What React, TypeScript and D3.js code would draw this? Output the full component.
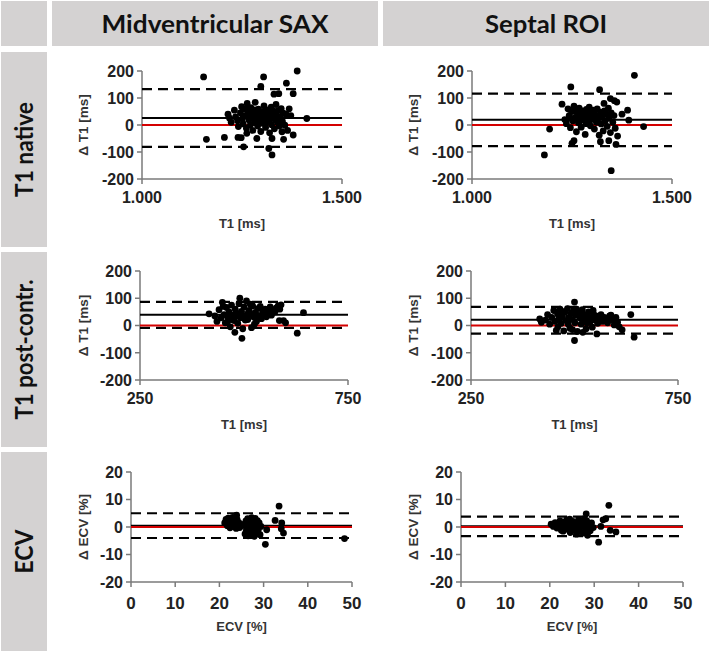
import React from "react";
import * as d3 from "d3";

// ---------- DATA ----------
const columnTitles = ["Midventricular SAX", "Septal ROI"];
const rowTitles = ["T1 native", "T1 post-contr.", "ECV"];

const xTitles = ["T1 [ms]", "T1 [ms]", "ECV [%]"];
const yTitles = ["\u0394 T1 [ms]", "\u0394 T1 [ms]", "\u0394 ECV [%]"];

const xDomains: [number, number][] = [[1000, 1500], [250, 750], [0, 50]];
const yDomains: [number, number][] = [[-200, 200], [-200, 200], [-20, 20]];
const xTickValues = [[1000, 1500], [250, 750], [0, 10, 20, 30, 40, 50]];
const xTickLabels = [["1.000", "1.500"], ["250", "750"], ["0", "10", "20", "30", "40", "50"]];
const yTickValues = [[-200, -100, 0, 100, 200], [-200, -100, 0, 100, 200], [-20, -10, 0, 10, 20]];

// [mean, upper LoA, lower LoA]
const midNativeLines = [26, 133, -81];
const septNativeLines = [19, 116, -78];
const midPostLines = [39, 87, -9];
const septPostLines = [21, 68, -30];
const midEcvLines = [0.5, 5.0, -4.0];
const septEcvLines = [0.3, 3.8, -3.3];

const midNativePts: [number, number][] = [
  [1154, 178], [1161, -53], [1206, -46], [1388, 200], [1304, 178], [1297, 143], [1361, 155],
  [1378, 116], [1342, 116], [1330, 114], [1412, 24], [1378, -37], [1354, -53], [1364, -20],
  [1350, -25], [1325, -50], [1254, -81], [1317, -87], [1325, -111], [1240, -46], [1248, -47],
  [1262, -31], [1287, -50], [1372, 35], [1360, 40], [1368, 60],
  [1215, 40], [1219, 25], [1223, 10], [1231, 55], [1234, 30], [1239, 16], [1241, -6],
  [1246, 45], [1249, 68], [1251, 24], [1253, 4], [1256, 60], [1259, 36], [1261, -12],
  [1263, 80], [1266, 44], [1267, 19], [1271, 1], [1272, 64], [1275, 29], [1277, -20],
  [1279, 51], [1281, 9], [1283, 84], [1285, 41], [1286, 26], [1289, -4], [1291, 59],
  [1292, 14], [1295, 36], [1297, -24], [1299, 49], [1301, 21], [1303, 6], [1305, 71],
  [1306, 39], [1309, -9], [1311, 31], [1313, 56], [1314, 11], [1317, 46], [1319, -29],
  [1321, 24], [1323, 66], [1324, 1], [1327, 34], [1329, 51], [1331, -14], [1333, 19],
  [1335, 76], [1336, 41], [1339, 9], [1341, 54], [1343, -4], [1346, 29], [1348, 61],
  [1351, 14], [1353, 44], [1357, -1], [1300, 35], [1290, 41], [1284, 11], [1276, 34],
  [1266, 61], [1310, 49], [1294, 26], [1318, 15], [1282, 56], [1270, 26],
];

const septNativePts: [number, number][] = [
  [1181, -111], [1194, -15], [1247, 141], [1406, 184], [1429, -6], [1348, -169], [1389, 55],
  [1392, 18], [1364, -41], [1360, -72], [1342, -58], [1321, -62], [1255, -58], [1250, -68],
  [1319, 131], [1346, 98], [1356, 90], [1225, 77], [1362, 85], [1330, 80], [1375, 40],
  [1232, 20], [1236, 5], [1240, 60], [1243, 35], [1246, -10], [1249, 50], [1252, 15],
  [1255, 70], [1258, 28], [1261, -25], [1263, 45], [1266, 8], [1268, 62], [1271, 32],
  [1273, -8], [1276, 52], [1278, 20], [1281, 40], [1283, -35], [1286, 58], [1288, 12],
  [1291, 30], [1293, 66], [1296, -3], [1298, 44], [1301, 22], [1303, 55], [1306, -15],
  [1308, 36], [1311, 10], [1313, 60], [1316, 26], [1318, -38], [1321, 48], [1323, 4],
  [1326, 33], [1328, -22], [1331, 52], [1333, 16], [1336, 40], [1338, -5], [1341, 62],
  [1343, 25], [1346, -28], [1348, 45], [1352, 10], [1355, 35], [1358, -12], [1290, 48],
  [1280, 25], [1300, 38], [1310, 22], [1270, 15], [1265, 30], [1320, 30], [1295, 18],
  [1285, 5], [1305, 46], [1275, 40], [1260, 55], [1245, 25],
];

const midPostPts: [number, number][] = [
  [416, 43], [490, 100], [495, -47], [478, -25], [643, 47], [628, -28], [595, 18], [589, 76],
  [600, 10], [470, 22], [585, 18], [430, 35], [435, 15], [440, 58], [445, 28], [448, 85],
  [452, 40], [455, 10], [458, 66], [461, 30], [464, 50], [467, -5], [470, 75], [473, 38],
  [476, 18], [479, 60], [482, 45], [485, 8], [488, 80], [491, 28], [494, 52], [497, -12],
  [500, 68], [503, 35], [506, 90], [509, 22], [512, 55], [515, 40], [518, -8], [521, 72],
  [524, 30], [527, 48], [530, 15], [533, 62], [536, 36], [539, 70], [542, 25], [545, 50],
  [548, 42], [551, 60], [554, 32], [557, 55], [560, 45], [563, 68], [566, 38], [570, 58],
  [574, 50], [578, 65], [582, 72], [586, 60], [503, 20], [515, 78], [480, 35], [460, 12],
  [525, 5], [495, 40], [510, 45], [540, 28], [450, 70], [530, 38],
];

const septPostPts: [number, number][] = [
  [500, 86], [500, -55], [636, 40], [644, -43], [615, -16], [554, -31], [416, 24], [420, 12],
  [608, -5], [600, 30], [585, 35], [430, 20], [435, 40], [440, 5], [445, 30], [450, 55],
  [453, 15], [456, -18], [459, 42], [462, 25], [465, 60], [468, 8], [471, 35], [474, -20],
  [477, 50], [480, 18], [483, 62], [486, 30], [489, -10], [492, 45], [495, 22], [498, 55],
  [501, 10], [504, 38], [507, -22], [510, 48], [513, 28], [516, 5], [519, 58], [522, 20],
  [525, 40], [528, -12], [531, 32], [534, 50], [537, 12], [540, 28], [543, -6], [546, 42],
  [549, 20], [552, 35], [556, 8], [560, 25], [564, 40], [568, 15], [572, 30], [576, 22],
  [580, 10], [588, 38], [592, 20], [596, 2], [604, 12], [470, 52], [485, 5], [505, 60],
  [515, 45], [530, 10], [495, -15], [520, -25], [545, 55], [460, -5],
];

const midEcvPts: [number, number][] = [
  [33.5, 7.6], [32.6, 2.4], [34.1, 1.5], [34.0, -0.6], [34.5, -2.2], [30.4, -6.3], [30.7, -1.0],
  [48.3, -4.2], [23.9, 4.3],
  [21.2, 1.5], [21.5, 2.8], [21.8, 0.5], [22.0, 3.2], [22.2, 1.8], [22.4, -0.3], [22.6, 2.5],
  [22.8, 1.0], [23.0, 3.5], [23.2, 0.2], [23.4, 2.0], [23.6, 1.2], [23.8, -0.5], [24.0, 2.8],
  [24.2, 0.8], [24.4, 1.6], [24.6, -0.2],
  [25.6, 1.0], [25.8, -2.5], [26.0, 2.2], [26.1, -1.2], [26.3, 0.3], [26.4, 3.0], [26.5, -3.2],
  [26.7, 1.6], [26.8, -0.8], [27.0, 2.6], [27.1, -2.0], [27.2, 0.6], [27.3, 3.4], [27.4, -1.5],
  [27.6, 1.2], [27.7, -3.0], [27.8, 2.0], [28.0, -0.4], [28.1, 3.1], [28.3, -2.4], [28.4, 0.9],
  [28.6, 2.3], [28.8, -1.0], [29.0, 1.5], [29.2, -2.8], [29.4, 0.2], [26.9, 0.0], [27.5, 1.8],
  [26.2, -2.0], [28.2, 1.0], [27.9, -3.4], [25.9, 0.4],
];

const septEcvPts: [number, number][] = [
  [33.3, 7.9], [32.6, 3.0], [31.0, -5.5], [33.6, -1.2], [34.9, -1.8], [28.2, 4.8], [31.5, 0.2],
  [32.0, 2.6],
  [20.3, 1.0], [20.8, 0.2], [21.2, 1.6], [21.6, -0.4], [22.0, 0.8], [22.3, 2.2], [22.6, -1.2],
  [22.9, 0.4], [23.2, 1.8], [23.5, -0.8], [23.8, 2.6], [24.0, 0.0], [24.3, 1.2], [24.6, -2.0],
  [24.9, 0.6], [25.2, 2.0], [25.4, -1.0], [25.7, 1.4], [26.0, -2.6], [26.2, 0.9], [26.5, 2.8],
  [26.7, -1.6], [27.0, 0.3], [27.2, 1.9], [27.5, -2.2], [27.7, 1.0], [28.0, -0.6], [28.3, 2.3],
  [28.5, -3.0], [28.8, 0.8], [29.1, -1.4], [29.4, 1.5], [29.8, -0.2], [25.0, -0.3], [26.8, 0.5],
  [23.0, -1.5], [27.8, 3.0], [24.5, 2.9], [26.3, -0.9], [21.8, 0.5],
];

const panelPoints = [
  [midNativePts, septNativePts],
  [midPostPts, septPostPts],
  [midEcvPts, septEcvPts],
];
const panelLines = [
  [midNativeLines, septNativeLines],
  [midPostLines, septPostLines],
  [midEcvLines, septEcvLines],
];

// ---------- LAYOUT ----------
const W = 709;
const H = 651;
const BOX = "#d4d2d2";
const rowBoxes = [
  [52, 247],
  [252, 447],
  [452, 651],
];
const colBoxes = [
  [52, 378],
  [383, 709],
];
const plotY = [
  [71, 179],
  [271, 380],
  [472, 582],
];
const plotX = [
  [[142, 342], [472, 672]],
  [[140, 348], [471, 678]],
  [[131, 352], [461, 683]],
];
const yTitleX = [83, 413];
const headerWidths = [227, 122];
const rowLabelWidths = [95, 140, 44];

const FONT = "'Liberation Sans', Arial, sans-serif";
const HFONT = "Lato, 'Open Sans', sans-serif";

function Panel({ r, c }: { r: number; c: number }) {
  const [x0, x1] = plotX[r][c];
  const [yT, yB] = plotY[r];
  const x = d3.scaleLinear().domain(xDomains[r]).range([x0, x1]);
  const y = d3.scaleLinear().domain(yDomains[r]).range([yB, yT]);
  const pts = panelPoints[r][c];
  const [mean, up, lo] = panelLines[r][c];
  const axisColor = "#7a7a7a";
  return (
    <g>
      <line x1={x0} x2={x0} y1={yT} y2={yB} stroke={axisColor} strokeWidth={1.5} />
      {yTickValues[r].map((t) => (
        <g key={"y" + t}>
          <line x1={x0 - 5} x2={x0} y1={y(t)} y2={y(t)} stroke={axisColor} strokeWidth={1.5} />
          <text
            x={x0 - 8}
            y={y(t)}
            dy="0.36em"
            textAnchor="end"
            fontFamily={FONT}
            fontWeight="bold"
            fontSize={16}
            fill="#222"
          >
            {t}
          </text>
        </g>
      ))}
      <line x1={x0} x2={x1} y1={yB} y2={yB} stroke={axisColor} strokeWidth={1.5} />
      {xTickValues[r].map((t, i) => (
        <g key={"x" + t}>
          <line x1={x(t)} x2={x(t)} y1={yB} y2={yB + 5} stroke={axisColor} strokeWidth={1.5} />
          <text
            x={x(t)}
            y={yB + (r === 2 ? 21 : 18)}
            dy="0.36em"
            textAnchor="middle"
            fontFamily={FONT}
            fontWeight="bold"
            fontSize={r === 2 ? 17 : 16}
            fill="#222"
          >
            {xTickLabels[r][i]}
          </text>
        </g>
      ))}
      <text
        x={(x0 + x1) / 2}
        y={yB + 44}
        dy="0.36em"
        textAnchor="middle"
        fontFamily={FONT}
        fontWeight="bold"
        fontSize={13}
        fill="#333"
      >
        {xTitles[r]}
      </text>
      <text
        transform={`translate(${yTitleX[c]},${(yT + yB) / 2}) rotate(-90)`}
        dy="0.36em"
        textAnchor="middle"
        fontFamily={FONT}
        fontWeight="bold"
        fontSize={13.5}
        fill="#333"
      >
        {yTitles[r]}
      </text>
      <line x1={x0} x2={x1} y1={y(mean)} y2={y(mean)} stroke="#000" strokeWidth={2} />
      <line x1={x0} x2={x1} y1={y(up)} y2={y(up)} stroke="#000" strokeWidth={2.2} strokeDasharray="10,6" />
      <line x1={x0} x2={x1} y1={y(lo)} y2={y(lo)} stroke="#000" strokeWidth={2.2} strokeDasharray="10,6" />
      <line x1={x0} x2={x1} y1={y(0)} y2={y(0)} stroke="#d40000" strokeWidth={2.2} />
      {pts.map((p, i) => (
        <circle key={i} cx={x(p[0])} cy={y(p[1])} r={3.4} fill="#000" />
      ))}
    </g>
  );
}

export default function App() {
  return (
    <svg
      width={W}
      height={H}
      viewBox={`0 0 ${W} ${H}`}
      style={{ position: "absolute", left: 0, top: 0, background: "#fff" }}
    >
      <rect x={0} y={0} width={W} height={H} fill="#fff" />
      <rect x={1} y={1} width={46} height={45} fill={BOX} />
      {colBoxes.map(([a, b], i) => (
        <g key={"h" + i}>
          <rect x={a} y={1} width={b - a} height={45} fill={BOX} />
          <text
            x={(a + b) / 2}
            y={24}
            dy="0.36em"
            textAnchor="middle"
            fontFamily={HFONT}
            fontWeight="bold"
            fontSize={25}
            fill="#111"
            textLength={headerWidths[i]}
            lengthAdjust="spacingAndGlyphs"
          >
            {columnTitles[i]}
          </text>
        </g>
      ))}
      {rowBoxes.map(([a, b], i) => (
        <g key={"r" + i}>
          <rect x={1} y={a} width={46} height={b - a} fill={BOX} />
          <text
            transform={`translate(24,${(a + b) / 2}) rotate(-90)`}
            dy="0.36em"
            textAnchor="middle"
            fontFamily={HFONT}
            fontWeight="bold"
            fontSize={25}
            fill="#111"
            textLength={rowLabelWidths[i]}
            lengthAdjust="spacingAndGlyphs"
          >
            {rowTitles[i]}
          </text>
        </g>
      ))}
      {[0, 1, 2].map((r) => [0, 1].map((c) => <Panel key={`${r}-${c}`} r={r} c={c} />))}
    </svg>
  );
}
